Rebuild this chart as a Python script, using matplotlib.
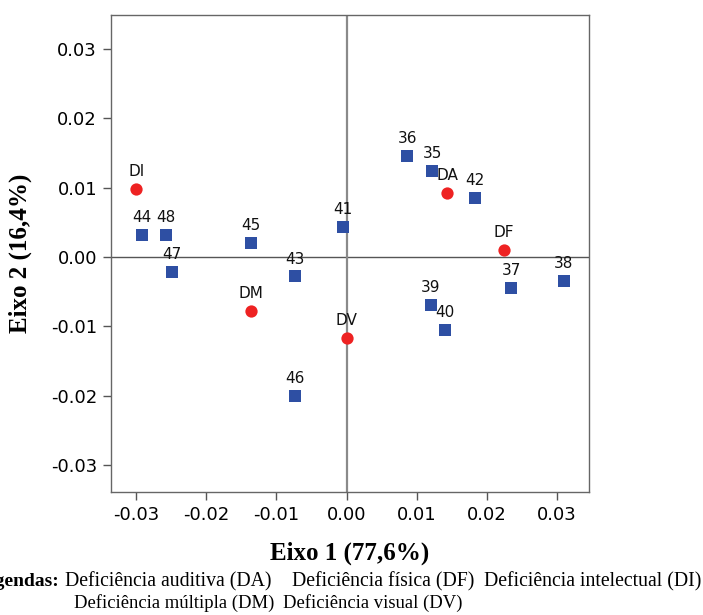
import numpy as np
import matplotlib.pyplot as plt

# groups (red circles)
grp_names = ['DA', 'DF', 'DI', 'DM', 'DV']
grp_x = [0.0144, 0.0225, -0.0300, -0.0136, 0.0000]
grp_y = [0.0093, 0.0010, 0.0098, -0.0078, -0.0117]

# items (blue squares)
item_names = ['35', '36', '37', '38', '39', '40', '41', '42', '43', '44', '45', '46', '47', '48']
item_x = [0.0122, 0.0087, 0.0235, 0.0310, 0.0120, 0.0141, -0.0005, 0.0183, -0.0074, -0.0292, -0.0136, -0.0074, -0.0249, -0.0258]
item_y = [0.0124, 0.0146, -0.0045, -0.0034, -0.0069, -0.0105, 0.0044, 0.0085, -0.0028, 0.0032, 0.0020, -0.0200, -0.0021, 0.0032]

ticks = [-0.03, -0.02, -0.01, 0.00, 0.01, 0.02, 0.03]

fig = plt.figure(figsize=(7.03, 6.15), dpi=100)
ax = fig.add_axes([111/703, 1-492/615, 478/703, 477/615])

ax.axhline(0, color='#555555', lw=1.0, zorder=1)
ax.axvline(0, color='#8a8a8a', lw=1.6, zorder=1)

ax.scatter(item_x, item_y, marker='s', s=78, color='#2e4fa3', zorder=3, linewidths=0)
ax.scatter(grp_x, grp_y, marker='o', s=78, color='#ee2222', zorder=3, linewidths=0)

for n, x, y in zip(item_names + grp_names, item_x + grp_x, item_y + grp_y):
    ax.annotate(n, (x, y), xytext=(0, 12.5), textcoords='offset points',
                ha='center', va='center', fontsize=11, family='DejaVu Sans', color='#111111')

ax.set_xlim(-0.03362, 0.03461)
ax.set_ylim(-0.03391, 0.03492)
ax.set_xticks(ticks)
ax.set_yticks(ticks)
ax.set_xticklabels(['%.2f' % t for t in ticks])
ax.set_yticklabels(['%.2f' % t for t in ticks])
ax.tick_params(direction='out', length=6, width=1, color='#555555', labelsize=13, pad=4)
for s in ax.spines.values():
    s.set_color('#666666')
    s.set_linewidth(1.0)

ax.set_xlabel('Eixo 1 (77,6%)', family='Liberation Serif', fontweight='bold', fontsize=18)
ax.set_ylabel('Eixo 2 (16,4%)', family='Liberation Serif', fontweight='bold', fontsize=18)
ax.xaxis.set_label_coords(0.5, (492-553)/477)
ax.xaxis.label.set_va('center')
ax.yaxis.set_label_coords((20-111)/478, 0.5)
ax.yaxis.label.set_va('center')

# legend text under the chart (starts cut at the left edge, as in the source)
def px(x, y):
    return x/703, 1-y/615

fig.text(*px(59, 582), 'Legendas:', ha='right', va='center', family='Liberation Serif',
         fontweight='bold', fontsize=14)
line1 = [(65, 'Deficiência auditiva (DA)'), (292, 'Deficiência física (DF)'), (484, 'Deficiência intelectual (DI)')]
line2 = [(74, 'Deficiência múltipla (DM)'), (283, 'Deficiência visual (DV)')]
for x, t in line1:
    fig.text(*px(x, 582), t, ha='left', va='center', family='Liberation Serif', fontsize=14.2)
for x, t in line2:
    fig.text(*px(x, 603), t, ha='left', va='center', family='Liberation Serif', fontsize=13.4)

plt.savefig('out.png', dpi=100)
